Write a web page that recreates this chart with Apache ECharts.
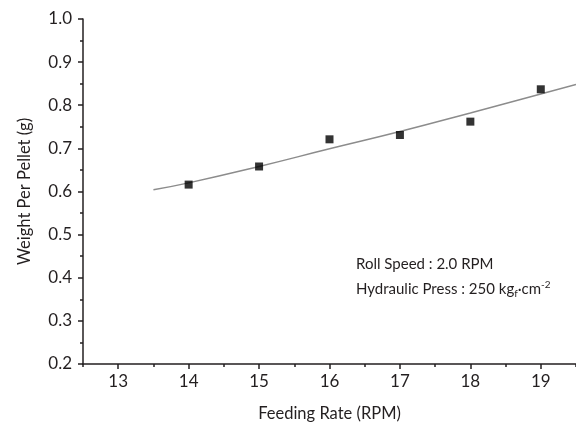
<!DOCTYPE html>
<html lang="en">
<head>
    <meta charset="UTF-8">
    <title>Weight Per Pellet</title>
    <script src="https://cdn.jsdelivr.net/npm/echarts@6/dist/echarts.min.js"></script>
    <style>
        *{
            padding:0;
            margin:0;
        }
        html,body{
            width:576px;
            height:427px;
            background:#fff;
        }
        #main{
            width:576px;
            height:427px;
        }
    </style>
</head>
<body>
<div id="main"></div>
<script>
    // measured points
    var feedRate = [14, 15, 16, 17, 18, 19];
    var weight = [0.616, 0.658, 0.721, 0.731, 0.762, 0.837];
    // fitted curve
    var fitX = [13.5, 14, 15, 16, 17, 18, 19, 19.5];
    var fitY = [0.604, 0.620, 0.658, 0.699, 0.739, 0.782, 0.826, 0.848];
    // tick labels
    var xMajor = [13, 14, 15, 16, 17, 18, 19];
    var xMinor = [12.5, 13.5, 14.5, 15.5, 16.5, 17.5, 18.5, 19.5];

    var ink = '#231f20';
    var font = 'Lato';

    var myChart = echarts.init(document.getElementById('main'));

    var pts = feedRate.map(function (x, i) { return [x, weight[i]]; });
    var fit = fitX.map(function (x, i) { return [x, fitY[i]]; });

    var option = {
        animation: false,
        textStyle: { fontFamily: font, color: ink },
        grid: { left: 83, top: 19, width: 495, height: 347 },
        xAxis: [{
            type: 'value',
            min: 12.5,
            max: 19.5,
            name: 'Feeding Rate (RPM)',
            nameLocation: 'middle',
            nameGap: 41,
            nameTextStyle: { fontSize: 16.5, color: ink, fontFamily: font },
            splitLine: { show: false },
            axisLine: { lineStyle: { color: ink, width: 1.5 } },
            axisTick: { customValues: xMajor, length: 5, lineStyle: { color: ink, width: 1.5 } },
            axisLabel: { customValues: xMajor, margin: 9, fontSize: 17, color: ink, fontFamily: font }
        }, {
            type: 'value',
            position: 'bottom',
            min: 12.5,
            max: 19.5,
            splitLine: { show: false },
            axisLine: { show: false },
            axisTick: { customValues: xMinor, length: 3, lineStyle: { color: ink, width: 1.5 } },
            axisLabel: { show: false }
        }],
        yAxis: {
            type: 'value',
            min: 0.2,
            max: 1.0,
            interval: 0.1,
            name: 'Weight Per Pellet (g)',
            nameLocation: 'middle',
            nameGap: 50,
            nameTextStyle: { fontSize: 16.5, color: ink, fontFamily: font },
            splitLine: { show: false },
            axisLine: { show: true, lineStyle: { color: ink, width: 1.5 } },
            axisTick: { show: true, length: 5, lineStyle: { color: ink, width: 1.5 } },
            minorTick: { show: true, splitNumber: 2, length: 3, lineStyle: { color: ink, width: 1.5 } },
            axisLabel: {
                margin: 11, fontSize: 17, color: ink, fontFamily: font,
                formatter: function (v) { return v.toFixed(1); }
            }
        },
        graphic: [{
            type: 'text',
            left: 356,
            top: 257,
            style: {
                text: 'Roll Speed : 2.0 RPM',
                fontSize: 15,
                fontFamily: font,
                fill: ink
            }
        }, {
            type: 'text',
            left: 356,
            top: 280,
            style: {
                text: 'Hydraulic Press : 250 kg{sub|f}·cm{sup|-2}',
                fontSize: 15,
                fontFamily: font,
                fill: ink,
                lineHeight: 19,
                rich: {
                    sub: { fontSize: 10, fontFamily: font, fill: ink, verticalAlign: 'bottom', lineHeight: 19 },
                    sup: { fontSize: 10, fontFamily: font, fill: ink, verticalAlign: 'top', lineHeight: 19 }
                }
            }
        }],
        series: [{
            type: 'line',
            data: fit,
            smooth: true,
            showSymbol: false,
            symbol: 'none',
            lineStyle: { color: '#8c8c8c', width: 1.5 },
            z: 1
        }, {
            type: 'scatter',
            data: pts,
            symbol: 'rect',
            symbolSize: 8,
            itemStyle: { color: '#000' },
            z: 3
        }]
    };
    myChart.setOption(option);
</script>
</body>
</html>
